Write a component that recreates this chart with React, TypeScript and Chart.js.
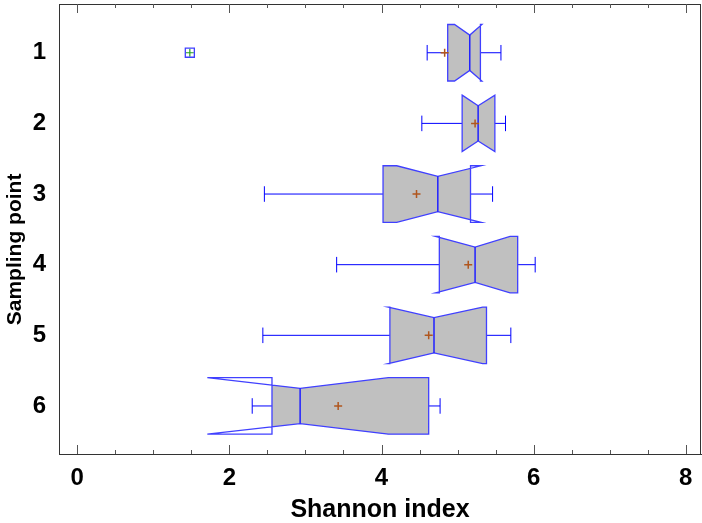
import React, { useEffect, useRef } from "react";
import { Chart, registerables } from "chart.js";

Chart.register(...registerables);

// ---- data ----
const categories = ["1", "2", "3", "4", "5", "6"];
const whiskerLow = [4.6, 4.53, 2.46, 3.41, 2.44, 2.3];
const q1 = [4.87, 5.06, 4.02, 4.76, 4.11, 2.56];
const median = [5.16, 5.27, 4.74, 5.23, 4.69, 2.93];
const q3 = [5.3, 5.49, 5.17, 5.79, 5.38, 4.62];
const whiskerHigh = [5.57, 5.63, 5.46, 6.02, 5.7, 4.77];
const notchLow = [4.96, 5.06, 4.2, 4.71, 4.09, 1.71];
const notchHigh = [5.32, 5.49, 5.31, 5.69, 5.33, 4.09];
const means = [4.83, 5.23, 4.46, 5.14, 4.62, 3.43];
const outlierCategory = [1];
const outlierValues = [1.48];
const xTicks = [0, 2, 4, 6, 8];

const FONT = "'Liberation Sans', Arial, sans-serif";
const BOX_HALF = 0.4;
const WAIST_HALF = 0.25;
const CAP_HALF = 0.11;

const boxPlugin = {
  id: "notchedBoxes",
  beforeDatasetsDraw(chart: any) {
    const { ctx } = chart;
    const x = chart.scales.x;
    const y = chart.scales.y;
    const px = (v: number) => x.getPixelForValue(v);
    ctx.save();
    for (let i = 0; i < categories.length; i++) {
      const c = i + 1;
      const yc = y.getPixelForValue(c);
      const top = y.getPixelForValue(c - BOX_HALF);
      const bot = y.getPixelForValue(c + BOX_HALF);
      const wt = y.getPixelForValue(c - WAIST_HALF);
      const wb = y.getPixelForValue(c + WAIST_HALF);
      const capT = y.getPixelForValue(c - CAP_HALF);
      const capB = y.getPixelForValue(c + CAP_HALF);

      // whiskers
      ctx.strokeStyle = "#0000ff";
      ctx.lineWidth = 1;
      ctx.beginPath();
      ctx.moveTo(px(whiskerLow[i]), yc);
      ctx.lineTo(px(q1[i]), yc);
      ctx.moveTo(px(q3[i]), yc);
      ctx.lineTo(px(whiskerHigh[i]), yc);
      ctx.moveTo(px(whiskerLow[i]), capT);
      ctx.lineTo(px(whiskerLow[i]), capB);
      ctx.moveTo(px(whiskerHigh[i]), capT);
      ctx.lineTo(px(whiskerHigh[i]), capB);
      ctx.stroke();

      const path = () => {
        ctx.beginPath();
        ctx.moveTo(px(q1[i]), top);
        ctx.lineTo(px(notchLow[i]), top);
        ctx.lineTo(px(median[i]), wt);
        ctx.lineTo(px(notchHigh[i]), top);
        ctx.lineTo(px(q3[i]), top);
        ctx.lineTo(px(q3[i]), bot);
        ctx.lineTo(px(notchHigh[i]), bot);
        ctx.lineTo(px(median[i]), wb);
        ctx.lineTo(px(notchLow[i]), bot);
        ctx.lineTo(px(q1[i]), bot);
        ctx.closePath();
      };

      // fill, clipped to the box
      ctx.save();
      ctx.beginPath();
      ctx.rect(px(q1[i]), top - 1, px(q3[i]) - px(q1[i]), bot - top + 2);
      ctx.clip();
      path();
      ctx.fillStyle = "#c0c0c0";
      ctx.fill();
      ctx.restore();

      // outline
      path();
      ctx.strokeStyle = "#4040ff";
      ctx.lineWidth = 1.3;
      ctx.stroke();

      // median
      ctx.beginPath();
      ctx.moveTo(px(median[i]), wt);
      ctx.lineTo(px(median[i]), wb);
      ctx.strokeStyle = "#2020ff";
      ctx.lineWidth = 1.5;
      ctx.stroke();
    }
    ctx.restore();
  },
  afterDraw(chart: any) {
    const { ctx, chartArea } = chart;
    const x = chart.scales.x;
    ctx.save();
    // top and right frame
    ctx.strokeStyle = "#333333";
    ctx.lineWidth = 1;
    ctx.beginPath();
    ctx.moveTo(chartArea.left, chartArea.top + 0.5);
    ctx.lineTo(chartArea.right, chartArea.top + 0.5);
    ctx.moveTo(chartArea.right - 0.5, chartArea.top);
    ctx.lineTo(chartArea.right - 0.5, chartArea.bottom);
    ctx.stroke();
    // inward ticks top and bottom
    ctx.strokeStyle = "#555555";
    ctx.beginPath();
    for (let k = 0; k <= 16; k++) {
      const v = k * 0.5;
      const p = Math.round(x.getPixelForValue(v)) + 0.5;
      const len = k % 4 === 0 ? 9 : 4;
      ctx.moveTo(p, chartArea.bottom);
      ctx.lineTo(p, chartArea.bottom - len);
      ctx.moveTo(p, chartArea.top);
      ctx.lineTo(p, chartArea.top + len);
    }
    ctx.stroke();
    ctx.restore();
  },
};

const zeroPad = (s: any) => {
  s.paddingTop = 0;
  s.paddingBottom = 0;
  s.paddingLeft = 0;
  s.paddingRight = 0;
};

export default function App() {
  const ref = useRef<HTMLCanvasElement | null>(null);

  useEffect(() => {
    document.body.style.margin = "0";
    const canvas = ref.current;
    if (!canvas) return;
    const outliers = outlierValues.map((v, i) => ({ x: v, y: outlierCategory[i] }));
    const chart = new Chart(canvas, {
      type: "scatter",
      data: {
        datasets: [
          {
            label: "mean",
            data: means.map((m, i) => ({ x: m, y: i + 1 })),
            pointStyle: "cross",
            pointRadius: 4,
            borderColor: "#b0561e",
            backgroundColor: "#b0561e",
            borderWidth: 1.5,
          },
          {
            label: "outlier",
            data: outliers,
            pointStyle: "rect",
            pointRadius: 6.4,
            borderColor: "#4040ff",
            backgroundColor: "rgba(0,0,0,0)",
            borderWidth: 1.3,
          },
          {
            label: "outlier cross",
            data: outliers,
            pointStyle: "cross",
            pointRadius: 4,
            borderColor: "#22a022",
            backgroundColor: "#22a022",
            borderWidth: 1.2,
          },
        ],
      },
      options: {
        animation: false,
        responsive: false,
        devicePixelRatio: 1,
        layout: { autoPadding: false, padding: { top: 4, right: 1, left: 0, bottom: 0 } },
        plugins: { legend: { display: false }, tooltip: { enabled: false } },
        scales: {
          x: {
            type: "linear",
            position: "bottom",
            min: -0.24,
            max: 8.2,
            afterBuildTicks: (s: any) => {
              s.ticks = xTicks.map((v) => ({ value: v }));
            },
            afterFit: (s: any) => {
              s.height = 69;
              zeroPad(s);
            },
            grid: { display: false, drawTicks: false, tickLength: 0 },
            border: { display: true, color: "#333333", width: 1 },
            ticks: {
              padding: 10,
              color: "#000000",
              font: { family: FONT, size: 24, weight: "bold" },
              callback: (v: any) => String(v),
            },
            title: {
              display: true,
              text: "Shannon index",
              color: "#000000",
              font: { family: FONT, size: 25, weight: "bold", lineHeight: 1 },
              padding: { top: 0, bottom: 0 },
            },
          },
          y: {
            type: "linear",
            position: "left",
            reverse: true,
            min: 0.31,
            max: 6.68,
            afterBuildTicks: (s: any) => {
              s.ticks = categories.map((_, i) => ({ value: i + 1 }));
            },
            afterFit: (s: any) => {
              s.width = 59;
              zeroPad(s);
            },
            grid: { display: false, drawTicks: false, tickLength: 0 },
            border: { display: true, color: "#333333", width: 1 },
            ticks: {
              padding: 13,
              color: "#000000",
              font: { family: FONT, size: 24, weight: "bold" },
              callback: (v: any) => categories[Math.round(Number(v)) - 1] ?? "",
            },
            title: {
              display: true,
              text: "Sampling point\u00A0\u00A0\u00A0\u00A0\u00A0\u00A0\u00A0",
              color: "#000000",
              font: { family: FONT, size: 21, weight: "bold", lineHeight: 1.2 },
              padding: { top: 3, bottom: 0 },
            },
          },
        },
      } as any,
      plugins: [boxPlugin],
    });
    return () => chart.destroy();
  }, []);

  return (
    <canvas
      ref={ref}
      width={702}
      height={523}
      style={{ display: "block", width: 702, height: 523 }}
    />
  );
}
